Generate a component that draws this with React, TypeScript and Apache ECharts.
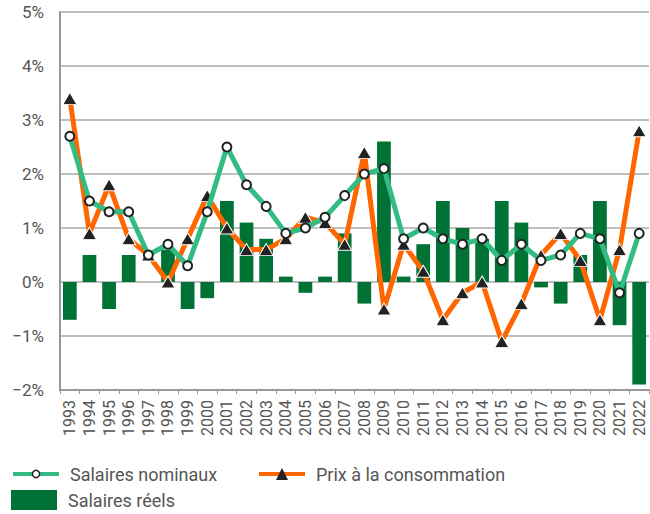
import React, { useEffect, useRef } from "react";
import * as echarts from "echarts";

const years = ["1993","1994","1995","1996","1997","1998","1999","2000","2001","2002","2003","2004","2005","2006","2007","2008","2009","2010","2011","2012","2013","2014","2015","2016","2017","2018","2019","2020","2021","2022"];
const nominalWages = [2.7,1.5,1.3,1.3,0.5,0.7,0.3,1.3,2.5,1.8,1.4,0.9,1.0,1.2,1.6,2.0,2.1,0.8,1.0,0.8,0.7,0.8,0.4,0.7,0.4,0.5,0.9,0.8,-0.2,0.9];
const consumerPrices = [3.4,0.9,1.8,0.8,0.5,0.0,0.8,1.6,1.0,0.6,0.6,0.8,1.2,1.1,0.7,2.4,-0.5,0.7,0.2,-0.7,-0.2,0.0,-1.1,-0.4,0.5,0.9,0.4,-0.7,0.6,2.8];
const realWages = [-0.7,0.5,-0.5,0.5,0.0,0.6,-0.5,-0.3,1.5,1.1,0.8,0.1,-0.2,0.1,0.9,-0.4,2.6,0.1,0.7,1.5,1.0,0.8,1.5,1.1,-0.1,-0.4,0.5,1.5,-0.8,-1.9];

const NAME_NOM = "Salaires nominaux";
const NAME_CPI = "Prix à la consommation";
const NAME_REAL = "Salaires réels";

export default function App() {
  const ref = useRef<HTMLDivElement>(null);
  useEffect(() => {
    if (!ref.current) return;
    const chart = echarts.init(ref.current, null, { renderer: "svg" });
    const font = "Roboto, 'Noto Sans', sans-serif";
    const legendText = { fontSize: 18, color: "#555", fontFamily: font, padding: [0, 0, 0, 6] };
    chart.setOption({
      animation: false,
      textStyle: { fontFamily: font },
      grid: { left: 60, right: 1, top: 12, height: 378 },
      legend: [
        {
          data: [NAME_NOM],
          left: 11,
          top: 465,
          padding: 0,
          itemWidth: 46,
          itemHeight: 9,
          lineStyle: { width: 4 },
          itemStyle: { borderWidth: 1.5 },
          textStyle: legendText,
        },
        {
          data: [NAME_CPI],
          left: 257,
          top: 465,
          padding: 0,
          itemWidth: 46,
          itemHeight: 15,
          lineStyle: { width: 4 },
          itemStyle: { borderWidth: 0 },
          textStyle: legendText,
        },
        {
          data: [{ name: NAME_REAL, icon: "rect" }],
          left: 11,
          top: 490,
          padding: 0,
          itemWidth: 46,
          itemHeight: 20,
          textStyle: legendText,
        },
      ],
      xAxis: {
        type: "category",
        data: years,
        position: "bottom",
        axisLine: { onZero: false, lineStyle: { color: "#999", width: 2 } },
        axisTick: { show: true, alignWithLabel: false, length: 4, lineStyle: { color: "#999" } },
        axisLabel: { rotate: 90, fontSize: 16, color: "#555", margin: 10, interval: 0 },
        splitLine: { show: false },
      },
      yAxis: {
        type: "value",
        min: -2,
        max: 5,
        interval: 1,
        axisLine: { show: true, lineStyle: { color: "#999", width: 2 } },
        axisTick: { show: false },
        axisLabel: {
          fontSize: 17,
          color: "#555",
          margin: 16,
          formatter: (v: number) => (v < 0 ? "\u2212" + Math.abs(v) : String(v)) + "%",
        },
        splitLine: { lineStyle: { color: "#aaa", width: 1.5 } },
      },
      series: [
        {
          name: NAME_REAL,
          type: "bar",
          data: realWages,
          barWidth: "70%",
          itemStyle: { color: "#007236" },
          z: 1,
        },
        {
          name: NAME_CPI,
          type: "line",
          data: consumerPrices,
          symbol: "triangle",
          symbolSize: [14, 12],
          lineStyle: { color: "#ff6600", width: 5 },
          itemStyle: { color: "#222", borderColor: "#fff", borderWidth: 1 },
          z: 3,
        },
        {
          name: NAME_NOM,
          type: "line",
          data: nominalWages,
          symbol: "circle",
          symbolSize: 9,
          lineStyle: { color: "#33bb84", width: 5 },
          itemStyle: { color: "#fff", borderColor: "#222", borderWidth: 2 },
          z: 4,
        },
      ],
    });
    return () => chart.dispose();
  }, []);
  return <div ref={ref} style={{ position: "absolute", left: 0, top: 0, width: 650, height: 514 }} />;
}
